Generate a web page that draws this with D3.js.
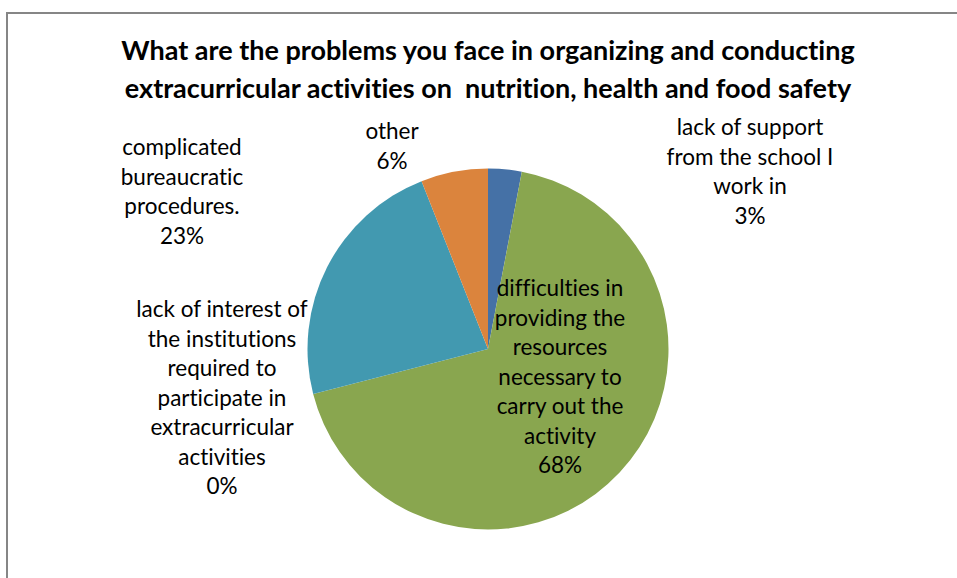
<!DOCTYPE html>
<html>
<head>
<meta charset="utf-8">
<script src="https://cdn.jsdelivr.net/npm/d3@7"></script>
<style>
  html, body { margin: 0; padding: 0; background: #fff; }
  svg { display: block; }
  text { white-space: pre; font-variant-ligatures: none; }
</style>
</head>
<body>
<svg id="chart" width="957" height="578"></svg>
<script>
// Survey answers, in drawing order (clockwise from 12 o'clock)
const categories = [
  "lack of support from the school I work in",
  "difficulties in providing the resources necessary to carry out the activity",
  "lack of interest of the institutions required to participate in extracurricular activities",
  "complicated bureaucratic procedures.",
  "other"
];
const shares = [3, 68, 0, 23, 6];
const sliceColors = ["#4571a6", "#89a64f", "#aa4643", "#4299b0", "#db843d"];

// Label text broken into lines, as set in the chart
const labelLines = [
  ["lack of support", "from the school I", "work in"],
  ["difficulties in", "providing the", "resources", "necessary to", "carry out the", "activity"],
  ["lack of interest of", "the institutions", "required to", "participate in", "extracurricular", "activities"],
  ["complicated", "bureaucratic", "procedures."],
  ["other"]
];
// Label anchor (centre x, first-line y) per slice
const labelAnchors = [
  [750, 135], [560, 296], [222, 317], [182, 155], [392, 139]
];
const titleLines = [
  "What are the problems you face in organizing and conducting",
  "extracurricular activities on  nutrition, health and food safety"
];

const svg = d3.select("#chart");
const W = 957, H = 578;

// Chart frame
svg.append("path")
  .attr("d", `M7,${H + 2} L7,13 L${W + 2},13`)
  .attr("fill", "none")
  .attr("stroke", "#868686")
  .attr("stroke-width", 2);

// Title
const title = svg.append("text")
  .attr("text-anchor", "middle")
  .attr("font-family", "Lato, 'Open Sans', sans-serif")
  .attr("font-weight", "bold")
  .attr("font-size", 27)
  .attr("fill", "#000");
titleLines.forEach((t, i) => {
  title.append("tspan").attr("x", 488).attr("y", 60 + i * 38).text(t);
});

// Pie
const cx = 488, cy = 349, R = 180.5;
const data = categories.map((c, i) => ({ name: c, value: shares[i], color: sliceColors[i], lines: labelLines[i], anchor: labelAnchors[i] }));
const pie = d3.pie().value(d => d.value).sort(null);
const arc = d3.arc().innerRadius(0).outerRadius(R);

const g = svg.append("g").attr("transform", `translate(${cx},${cy})`);
g.selectAll("path.slice")
  .data(pie(data))
  .join("path")
  .attr("class", "slice")
  .attr("d", arc)
  .attr("fill", d => d.data.color);

// Data labels: category name + percentage
const lineH = 29.5;
const labels = svg.append("g")
  .attr("font-family", "Lato, 'Open Sans', sans-serif")
  .attr("font-size", 22.5)
  .attr("fill", "#000")
  .attr("text-anchor", "middle");
data.forEach(d => {
  const t = labels.append("text");
  const rows = d.lines.concat([d.value + "%"]);
  rows.forEach((r, i) => {
    t.append("tspan").attr("x", d.anchor[0]).attr("y", d.anchor[1] + i * lineH).text(r);
  });
});
</script>
</body>
</html>
